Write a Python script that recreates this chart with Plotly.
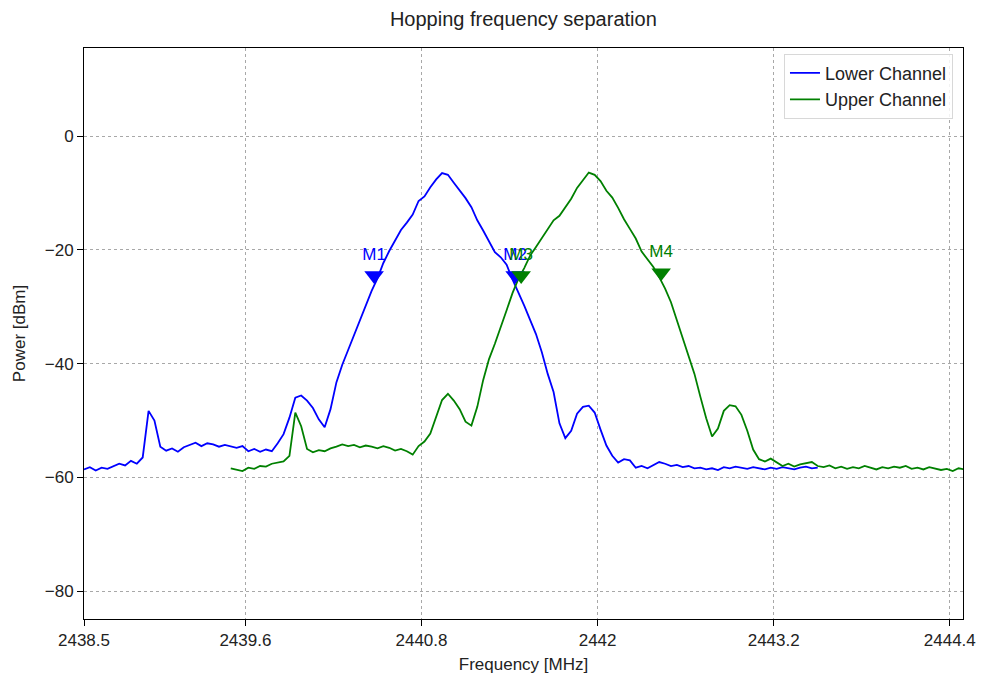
import numpy as np
import plotly.graph_objects as go

# Sweep settings for the two captured channels (MHz)
lower_start, lower_stop = 2438.5, 2443.5
upper_start, upper_stop = 2439.5, 2444.5
n_points = 126

# Measured power traces (dBm), one value per sweep point
lower_power = [
    -58.6, -58.2, -58.8, -58.3, -58.5, -58.0, -57.6, -57.9, -57.1, -57.6,
    -56.5, -48.3, -50.0, -54.6, -55.3, -54.9, -55.5, -54.7, -54.3, -53.9,
    -54.5, -54.0, -54.2, -54.6, -54.3, -54.5, -54.8, -54.5, -55.4, -55.0,
    -55.5, -55.1, -55.4, -54.0, -52.4, -49.5, -46.0, -45.6, -46.5, -47.8,
    -49.8, -51.2, -48.0, -43.3, -40.2, -37.6, -35.0, -32.4, -29.6, -27.2,
    -25.0, -22.3, -20.2, -18.3, -16.5, -15.2, -13.8, -11.4, -10.6, -9.0,
    -7.6, -6.5, -6.8, -8.2, -9.5, -10.9, -12.5, -14.8, -16.6, -18.6,
    -20.4, -21.3, -22.6, -25.2, -27.4, -29.8, -32.3, -34.8, -38.0, -41.8,
    -45.0, -50.5, -53.1, -51.8, -48.8, -47.6, -47.4, -48.6, -51.6, -54.4,
    -56.2, -57.4, -56.8, -57.0, -58.3, -58.0, -58.4, -57.8, -57.3, -57.6,
    -58.0, -57.8, -58.2, -58.0, -58.4, -58.3, -58.6, -58.4, -58.7, -58.2,
    -58.4, -58.1, -58.3, -58.5, -58.2, -58.4, -58.6, -58.3, -58.5, -58.2,
    -58.4, -58.6, -58.3, -58.1, -58.4, -58.3,
]
upper_power = [
    -58.4, -58.6, -58.9, -58.3, -58.5, -58.0, -58.1, -57.6, -57.4, -57.2,
    -56.2, -48.6, -51.0, -55.0, -55.6, -55.2, -55.4, -54.9, -54.6, -54.2,
    -54.5, -54.3, -54.7, -54.4, -54.6, -54.9, -54.5, -54.8, -55.3, -55.0,
    -55.4, -56.0, -54.5, -53.7, -52.3, -49.4, -46.4, -45.3, -46.5, -48.0,
    -50.2, -50.9, -47.6, -42.9, -39.2, -36.5, -33.7, -30.6, -27.6, -25.1,
    -23.2, -21.0, -19.5, -18.0, -16.4, -14.8, -14.0, -12.5, -11.0, -9.1,
    -7.8, -6.4, -6.8, -7.9, -9.6, -10.8, -12.6, -14.6, -16.3, -18.0,
    -20.3, -21.6, -23.0, -24.8, -26.8, -29.2, -32.4, -35.6, -38.7, -41.8,
    -45.8, -49.6, -52.8, -51.4, -48.3, -47.3, -47.5, -49.0, -51.8, -55.1,
    -56.8, -57.2, -56.7, -57.4, -58.0, -57.6, -58.1, -57.7, -57.5, -57.3,
    -58.0, -58.2, -57.9, -58.4, -58.1, -58.5, -58.2, -58.4, -58.0, -58.3,
    -58.6, -58.2, -58.4, -58.1, -58.3, -58.0, -58.5, -58.3, -58.6, -58.2,
    -58.4, -58.7, -58.5, -58.9, -58.4, -58.6,
]

# Band-edge markers
marker_names = ["M1", "M2", "M3", "M4"]
marker_freq = [2440.477, 2441.438, 2441.479, 2442.433]
marker_power = [-24.5, -24.5, -24.5, -24.0]
marker_colors = ["blue", "blue", "green", "green"]

x_ticks = [2438.5, 2439.6, 2440.8, 2442, 2443.2, 2444.4]
x_tick_text = ["2438.5", "2439.6", "2440.8", "2442", "2443.2", "2444.4"]
y_ticks = [-80, -60, -40, -20, 0]

lower_freq = np.linspace(lower_start, lower_stop, n_points)
upper_freq = np.linspace(upper_start, upper_stop, n_points)

FONT = "Liberation Sans, Arial, sans-serif"
TEXT = "#222222"

fig = go.Figure()
fig.add_trace(go.Scatter(x=lower_freq, y=lower_power, mode="lines",
                         name="Lower Channel",
                         line=dict(color="blue", width=1.8)))
fig.add_trace(go.Scatter(x=upper_freq, y=upper_power, mode="lines",
                         name="Upper Channel",
                         line=dict(color="green", width=1.8)))

for name, f, p, c in zip(marker_names, marker_freq, marker_power, marker_colors):
    fig.add_trace(go.Scatter(
        x=[f], y=[p], mode="markers+text", text=[name],
        textposition="top center",
        textfont=dict(family=FONT, size=17, color=c),
        marker=dict(symbol="triangle-down", size=17, color=c),
        showlegend=False, hoverinfo="skip"))

axis_common = dict(
    showline=True, linecolor="black", linewidth=1, mirror=True,
    ticks="outside", ticklen=6, tickcolor="black", tickwidth=1,
    showgrid=True, gridcolor="#a8a8a8", griddash="dot", gridwidth=1,
    zeroline=False, automargin=False,
    tickfont=dict(family=FONT, size=17, color=TEXT),
)

fig.update_layout(
    width=981, height=678,
    margin=dict(l=84, r=18, t=48, b=59),
    paper_bgcolor="white", plot_bgcolor="white",
    font=dict(family=FONT, color=TEXT),
    title=dict(text="Hopping frequency separation",
               font=dict(family=FONT, size=20, color=TEXT),
               x=0.5335, xanchor="center", y=1 - 19 / 678, yanchor="middle"),
    xaxis=dict(range=[2438.5, 2444.49], tickvals=x_ticks, ticktext=x_tick_text,
               title=dict(text="Frequency [MHz]", standoff=8,
                          font=dict(family=FONT, size=17, color=TEXT)),
               **axis_common),
    yaxis=dict(range=[-84.9, 15.5], tickvals=y_ticks,
               title=dict(text="Power [dBm]", standoff=14,
                          font=dict(family=FONT, size=17, color=TEXT)),
               **axis_common),
    legend=dict(x=0.9886, xanchor="right", y=0.99, yanchor="top",
                bgcolor="rgba(255,255,255,0.85)", bordercolor="#d8d8d8",
                borderwidth=1, font=dict(family=FONT, size=18, color=TEXT)),
    showlegend=True,
)

fig.write_html("out.html")
